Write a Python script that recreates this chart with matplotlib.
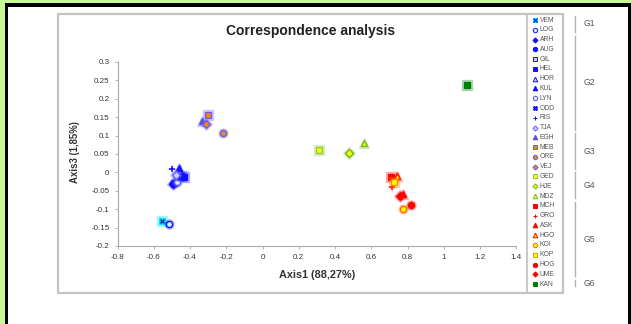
"""Correspondence analysis scatter (Axis1 vs Axis3) with grouped legend."""
import matplotlib
matplotlib.use('Agg')
import matplotlib.pyplot as plt
from matplotlib.patches import Rectangle
from matplotlib.ticker import MultipleLocator, FuncFormatter

plt.rcParams['font.family'] = ['Liberation Sans', 'DejaVu Sans']

# --- data -------------------------------------------------------------------
names = ['VEM', 'LOG', 'ARH', 'AUG', 'GIL', 'HEL', 'HOR', 'KUL', 'LYN', 'ODD',
         'RIS', 'TJA', 'EGH', 'MEB', 'ORE', 'VEJ', 'GED', 'HJE', 'MDZ', 'MCH',
         'GRO', 'ASK', 'HGO', 'KOI', 'KOP', 'HOG', 'UME', 'KAN']
axis1 = [-0.553, -0.516, -0.492, -0.487, -0.450, -0.433, -0.462, -0.459, -0.470, -0.455,
         -0.498, -0.480, -0.334, -0.303, -0.220, -0.311, 0.313, 0.475, 0.558, 0.708,
         0.714, 0.776, 0.743, 0.777, 0.725, 0.820, 0.758, 1.126]
axis3 = [-0.131, -0.141, -0.031, -0.029, -0.010, -0.012, 0.004, 0.011, -0.025, -0.012,
         0.008, -0.007, 0.139, 0.155, 0.107, 0.131, 0.060, 0.054, 0.080, -0.012,
         -0.039, -0.060, -0.009, -0.099, -0.026, -0.088, -0.063, 0.237]
groups = ['G1', 'G2', 'G3', 'G4', 'G5', 'G6']
group_sizes = [2, 10, 4, 3, 8, 1]

# --- marker styles: name -> (marker, face, edge) ----------------------------
BLUE, CYAN, PURP, ORNG = '#1010ff', '#00e5ff', '#6f58e6', '#e8891c'
YEL, GRN, RED, DGRN = '#ffff00', '#6fb82e', '#ff0000', '#008000'
style = {
    'VEM': ('s', CYAN, CYAN), 'LOG': ('o', '#c8f4ff', BLUE), 'ARH': ('D', BLUE, BLUE),
    'AUG': ('o', BLUE, BLUE), 'GIL': ('s', '#d0d0ff', BLUE), 'HEL': ('s', BLUE, BLUE),
    'HOR': ('^', '#e0e0ff', BLUE), 'KUL': ('^', BLUE, BLUE), 'LYN': ('o', '#e8e8ff', '#5555ff'),
    'ODD': ('X', BLUE, BLUE), 'RIS': ('+', BLUE, BLUE), 'TJA': ('D', '#d0d0ff', '#6060ff'),
    'EGH': ('^', '#5a4fe0', '#5a4fe0'), 'MEB': ('s', ORNG, PURP), 'ORE': ('o', ORNG, PURP),
    'VEJ': ('D', ORNG, PURP), 'GED': ('s', YEL, '#8dc63f'), 'HJE': ('D', YEL, GRN),
    'MDZ': ('^', YEL, GRN), 'MCH': ('s', RED, RED), 'GRO': ('+', RED, RED),
    'ASK': ('^', RED, RED), 'HGO': ('^', YEL, RED), 'KOI': ('o', YEL, '#ff6a00'),
    'KOP': ('s', YEL, '#ff8c00'), 'HOG': ('o', RED, RED), 'UME': ('D', RED, RED),
    'KAN': ('s', DGRN, DGRN),
}
msize = {'s': 4.4, 'o': 4.4, '^': 4.6, 'D': 3.6, '+': 4.7, 'X': 4.2}

W, H = 631, 324
fig = plt.figure(figsize=(W / 100, H / 100), dpi=100)

# background / frame layer in pixel coordinates
bg = fig.add_axes([0, 0, 1, 1], zorder=-1)
bg.set_xlim(0, W); bg.set_ylim(H, 0); bg.axis('off')
bg.add_patch(Rectangle((0, 0), W, H, color='#c8f79a', lw=0))
bg.add_patch(Rectangle((5, 3), W - 5, H, color='black', lw=0))
bg.add_patch(Rectangle((8, 7), 620, H, color='white', lw=0))
bg.add_patch(Rectangle((58, 13.5), 505, 279, fill=False, ec='#c4c4c4', lw=1.6))
bg.add_patch(Rectangle((527, 13.5), 36, 279, fill=False, ec='#c4c4c4', lw=1.3))

# legend
for i, nm in enumerate(names):
    yy = 20 + i * 9.78
    mk, fc, ec = style[nm]
    bg.plot(535, yy, marker=mk, ms=msize[mk] * 0.72, mfc=fc, mec=ec, mew=0.7, ls='none')
    if nm == 'VEM':
        bg.plot(535, yy, marker='x', ms=2.6, mec=BLUE, mew=0.8, ls='none')
    bg.text(540, yy, nm, fontsize=4.9, color='#555555', va='center', ha='left')

# group brackets
start = 0
for g, n in zip(groups, group_sizes):
    y0 = 20 + start * 9.78 - 4
    y1 = 20 + (start + n - 1) * 9.78 + 2
    bg.plot([575, 575], [y0, y1], color='#b0b0b0', lw=1.0)
    bg.text(589, (y0 + y1) / 2, g, fontsize=6.2, color='#555555', ha='center', va='center')
    start += n

# --- main scatter -----------------------------------------------------------
ax = fig.add_axes([117.5 / W, 78 / H, 398.8 / W, 184 / H])
ax.patch.set_alpha(0)
for nm, xv, yv in zip(names, axis1, axis3):
    mk, fc, ec = style[nm]
    # soft halo like the original's glow effect
    ax.plot(xv, yv, marker=mk, ms=msize[mk] + 2.2, mfc=ec, mec=ec, mew=1.0,
            alpha=0.25, ls='none', clip_on=False)
    ax.plot(xv, yv, marker=mk, ms=msize[mk], mfc=fc, mec=ec,
            mew=1.0 if mk not in '+X' else 1.1, ls='none', clip_on=False)
    if nm == 'VEM':
        ax.plot(xv, yv, marker='x', ms=3.2, mec='#1030a0', mew=1.0, ls='none')

ax.set_xlim(-0.8, 1.4)
ax.set_ylim(-0.2, 0.3)
ax.xaxis.set_major_locator(MultipleLocator(0.2))
ax.yaxis.set_major_locator(MultipleLocator(0.05))
fmt = FuncFormatter(lambda v, p: f'{round(v, 2):g}')
ax.xaxis.set_major_formatter(fmt)
ax.yaxis.set_major_formatter(fmt)
for s in ['top', 'right']:
    ax.spines[s].set_visible(False)
for s in ['left', 'bottom']:
    ax.spines[s].set_color('#a8a8a8'); ax.spines[s].set_linewidth(0.8)
ax.tick_params(direction='out', length=2.2, width=0.6, color='#a8a8a8',
               labelsize=5.8, labelcolor='#333333', pad=3.5)

fig.text(310.7 / W, 1 - 30.7 / H, 'Correspondence analysis', fontsize=10,
         fontweight='bold', ha='center', va='center', color='#222222')
fig.text(317 / W, 1 - 275 / H, 'Axis1 (88,27%)', fontsize=7.8,
         fontweight='bold', ha='center', va='center', color='#333333')
fig.text(75 / W, 1 - 152.5 / H, 'Axis3 (1,85%)', fontsize=6.9, rotation=90,
         fontweight='bold', ha='center', va='center', color='#333333')

fig.savefig('out.png', dpi=100)
